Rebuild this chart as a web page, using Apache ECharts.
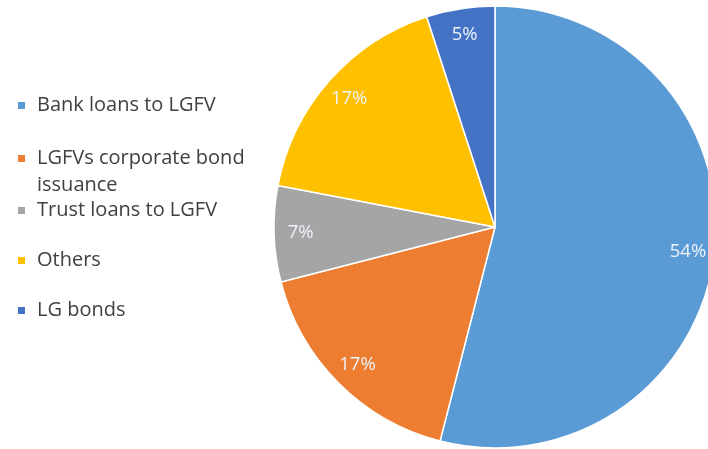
<!DOCTYPE html>
<html>
<head>
<meta charset="utf-8">
<script src="https://cdn.jsdelivr.net/npm/echarts@6/dist/echarts.min.js"></script>
<style>
html,body{margin:0;padding:0;background:#fff;}
#main{width:708px;height:449px;}
</style>
</head>
<body>
<div id="main"></div>
<script>
const categories = ['Bank loans to LGFV', 'LGFVs corporate bond issuance', 'Trust loans to LGFV', 'Others', 'LG bonds'];
const values = [54, 17, 7, 17, 5];
const colors = ['#5B9BD5', '#ED7D31', '#A5A5A5', '#FFC000', '#4472C4'];

const data = categories.map((c, i) => ({ name: c, value: values[i] }));
const legendText = {
  'LGFVs corporate bond issuance': '\nLGFVs corporate bond\nissuance'
};
const legendCommon = {
  orient: 'vertical',
  left: 16,
  padding: 0,
  itemWidth: 9,
  itemHeight: 9,
  icon: 'rect',
  selectedMode: false,
  formatter: n => legendText[n] || n,
  textStyle: {
    fontFamily: 'Open Sans',
    fontSize: 20,
    lineHeight: 27,
    color: '#404040',
    padding: [0, 0, 0, 6]
  }
};

const chart = echarts.init(document.getElementById('main'));
chart.setOption({
  animation: false,
  color: colors,
  legend: [
    Object.assign({}, legendCommon, { top: 92, itemGap: -1, data: categories.slice(0, 2) }),
    Object.assign({}, legendCommon, { top: 197, itemGap: 23, data: categories.slice(2) })
  ],
  series: [
    {
      type: 'pie',
      center: [495, 227],
      radius: [0, 221],
      startAngle: 90,
      clockwise: true,
      silent: true,
      itemStyle: { borderColor: '#ffffff', borderWidth: 1.5 },
      label: { show: false },
      labelLine: { show: false },
      data: data
    },
    {
      type: 'pie',
      center: [495, 227],
      radius: [162, 221],
      startAngle: 90,
      clockwise: true,
      silent: true,
      legendHoverLink: false,
      itemStyle: { color: 'rgba(0,0,0,0)', borderWidth: 0 },
      label: {
        show: true,
        position: 'inside',
        formatter: p => p.value + '%',
        fontFamily: 'Open Sans',
        fontSize: 18.5,
        color: '#eef3fa'
      },
      labelLine: { show: false },
      data: data
    }
  ]
});
</script>
</body>
</html>
